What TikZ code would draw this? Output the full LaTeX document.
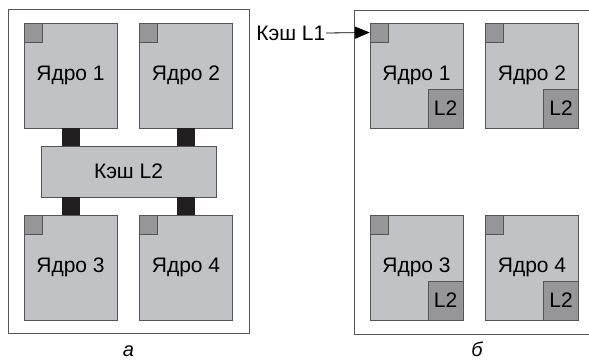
\documentclass[tikz,border=0pt]{standalone}
\usepackage{fontspec}
\setmainfont{Liberation Sans}
\usetikzlibrary{positioning,arrows.meta}

\definecolor{coregray}{RGB}{193,194,197}
\definecolor{cachegray}{RGB}{150,150,152}
\definecolor{busblack}{RGB}{35,31,32}
\definecolor{framegray}{RGB}{85,85,85}

\tikzset{
  core/.style={draw=framegray,fill=coregray,line width=0.8pt,minimum width=93pt,
    minimum height=105pt,inner sep=0pt,font=\fontsize{21}{25}\selectfont},
  lone/.style={draw=framegray,fill=cachegray,line width=0.8pt,minimum width=18pt,
    minimum height=19pt,inner sep=0pt},
  ltwo/.style={draw=framegray,fill=cachegray,line width=0.8pt,minimum width=35pt,
    minimum height=39pt,inner sep=0pt,font=\fontsize{21}{25}\selectfont},
  bus/.style={line width=18pt,busblack},
  frame/.style={draw=framegray,line width=0.9pt},
  pointer/.style={line width=0.8pt,-{Triangle[angle=45:16pt,line width=0.8pt]}}
}

\begin{document}
\begin{tikzpicture}[x=1pt,y=-1pt,on grid]
  \useasboundingbox (0,0) rectangle (589,361);
  % panel a
  \draw[frame] (8,9) rectangle (249,333);
  \node[core] (a1) at (70.5,75.5) {Ядро 1};
  \node[core] (a2) [right=115.5pt of a1] {Ядро 2};
  \node[core] (a3) [below=192pt of a1] {Ядро 3};
  \node[core] (a4) [right=115.5pt of a3] {Ядро 4};
  \foreach \c in {a1,a2,a3,a4}
    \node[lone,anchor=north west] (\c l1) at (\c.north west) {};
  \node[core,minimum width=175pt,minimum height=51pt] (al2) at (128.5,171.5) {Кэш L2};
  \draw[bus] (a1.south) -- (a1.south |- al2.north);
  \draw[bus] (a2.south) -- (a2.south |- al2.north);
  \draw[bus] (a3.north) -- (a3.north |- al2.south);
  \draw[bus] (a4.north) -- (a4.north |- al2.south);
  \node[font=\fontsize{20}{24}\selectfont\itshape,anchor=base,inner sep=0pt] (capa) at (128.5,356) {а};

  % panel b
  \draw[frame] (589,10) -- (354,10) -- (354,334) -- (589,334);
  \node[core] (b1) at (416.5,75.5) {Ядро 1};
  \node[core] (b2) [right=115.5pt of b1] {Ядро 2};
  \node[core] (b3) [below=192pt of b1] {Ядро 3};
  \node[core] (b4) [right=115.5pt of b3] {Ядро 4};
  \foreach \c in {b1,b2,b3,b4} {
    \node[lone,anchor=north west] (\c l1) at (\c.north west) {};
    \node[ltwo,anchor=south east] (\c l2) at (\c.south east) {L2};
  }
  \node[font=\fontsize{21}{25}\selectfont,anchor=east,inner sep=0.5pt] (key) at (326,33) {Кэш L1};
  \draw[pointer] (key.east) -- (b1l1.west);
  \node[font=\fontsize{20}{24}\selectfont\itshape,anchor=base,inner sep=0pt] (capb) at (477,356) {б};
\end{tikzpicture}
\end{document}
